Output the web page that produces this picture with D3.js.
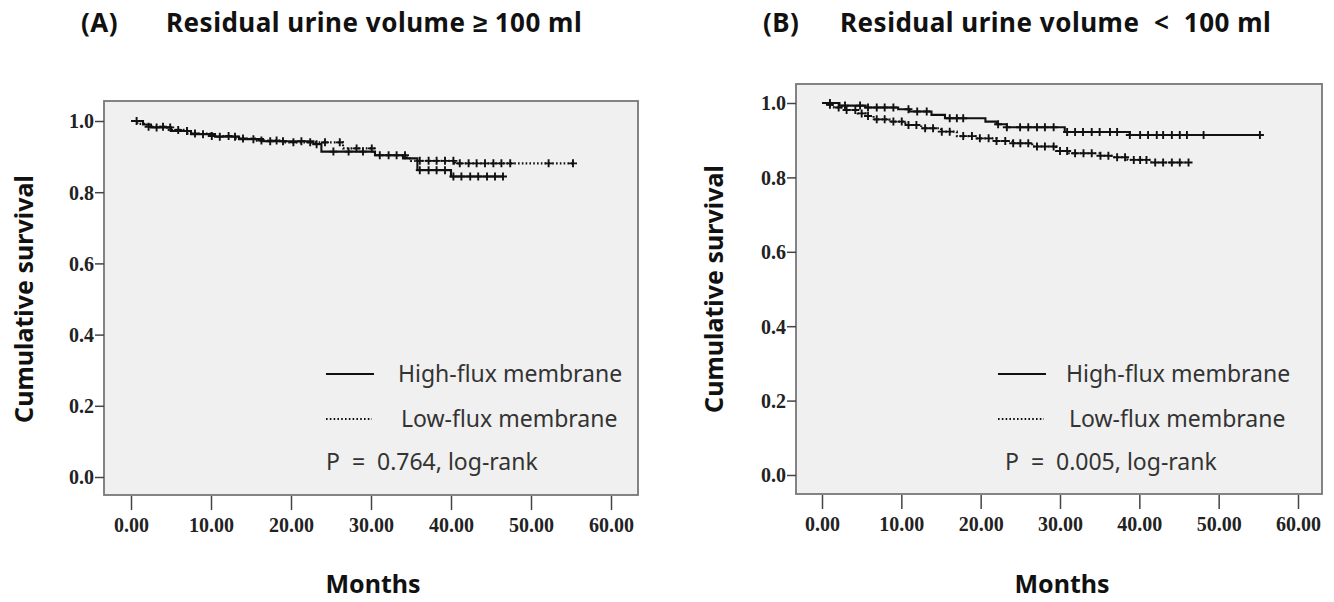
<!DOCTYPE html>
<html>
<head>
<meta charset="utf-8">
<script src="https://cdn.jsdelivr.net/npm/d3@7"></script>
<style>
  body { margin: 0; background: #fff; }
  svg { display: block; }
  .tick-lbl { font-family: "Liberation Serif", serif; font-weight: bold; font-size: 20px; fill: #222; }
  .ttl { font-family: "Noto Sans", sans-serif; font-weight: bold; font-size: 26px; fill: #111; letter-spacing: 0.5px; }
  .axt { font-family: "Noto Sans", sans-serif; font-weight: bold; font-size: 25px; fill: #111; }
  .leg { font-family: "Noto Sans", sans-serif; font-size: 23px; fill: #333; }
</style>
</head>
<body>
<div id="chart"></div>
<script>
// ---- data ----
const xTicks = [0, 10, 20, 30, 40, 50, 60];
const yTicks = [0, 0.2, 0.4, 0.6, 0.8, 1.0];

// (A) residual urine >= 100 ml
const aHighT = [0, 1.5, 2.5, 5, 7.5, 10.5, 13.5, 16.5, 22.8, 23.8, 30.5, 34, 35.8, 40];
const aHighS = [1.0, 0.99, 0.982, 0.972, 0.963, 0.956, 0.949, 0.943, 0.935, 0.914, 0.904, 0.895, 0.862, 0.844];
const aHighEnd = 46.5;
const aHighCens = [0.7, 3.2, 4.9, 7.0, 9.0, 11.1, 13.0, 15.3, 17.4, 19.0, 21.3, 23.2, 25.3, 27.2, 29.0, 31.1, 33.2,
  36.1, 37.2, 38.2, 39.25, 40.3, 41.3, 42.4, 43.4, 44.5, 45.5, 46.5];

const aLowT = [0, 0.8, 2, 4.5, 7, 10, 13, 15.5, 19, 26.5, 30.4, 34.5, 35, 40.5];
const aLowS = [1.0, 0.992, 0.984, 0.975, 0.965, 0.958, 0.951, 0.945, 0.94, 0.923, 0.904, 0.895, 0.888, 0.881];
const aLowEnd = 55.25;
const aLowCens = [2.2, 4.0, 5.9, 8.0, 10.1, 12.2, 14.0, 16.3, 18.2, 20.3, 22.4, 24.25, 26.1, 28.2, 30.1, 32.2, 34.25,
  36.1, 37.2, 38.2, 39.25, 40.3, 41.1, 42.2, 43.2, 44.25, 45.3, 46.3, 47.4, 52.2, 55.25];

// (B) residual urine < 100 ml
const bHighT = [0, 2.2, 5.5, 9.6, 11, 13.8, 15.5, 20.6, 22, 23.3, 30.6, 38.8];
const bHighS = [1.0, 0.993, 0.988, 0.983, 0.977, 0.968, 0.959, 0.95, 0.943, 0.935, 0.922, 0.914];
const bHighEnd = 55.2;
const bHighCens = [1.0, 2.9, 4.8, 5.8, 6.9, 7.9, 9.0, 10.9, 12.0, 13.2, 16.1, 17.0, 17.8, 22.2, 23.3, 24.97, 26.0,
  27.1, 28.1, 29.2, 30.9, 31.9, 32.9, 34.0, 35.0, 36.3, 37.2, 38.8, 40.1, 41.1, 42.2, 43.0, 44.1, 45.1, 46.0, 48.1, 55.2];

const bLowT = [0, 0.6, 1.5, 3, 4.5, 5.5, 6.5, 8.5, 10.5, 12.5, 15, 17, 19.5, 22, 24, 26.5, 29.5, 31, 35, 36.5, 38.5, 41.5];
const bLowS = [1.0, 0.995, 0.988, 0.981, 0.972, 0.965, 0.956, 0.95, 0.941, 0.932, 0.923, 0.911, 0.905, 0.898, 0.892,
  0.883, 0.871, 0.865, 0.858, 0.854, 0.847, 0.84];
const bLowEnd = 46.2;
const bLowCens = [1.0, 2.1, 3.1, 4.2, 5.0, 5.8, 6.9, 7.9, 9.0, 10.05, 10.9, 11.9, 13.0, 14.0, 15.1, 16.1, 17.8, 18.9,
  19.9, 21.0, 22.0, 23.1, 24.1, 25.0, 26.0, 27.1, 28.1, 29.2, 30.0, 30.9, 31.9, 32.96, 34.0, 35.1, 36.1, 37.2, 38.2,
  39.3, 40.1, 40.9, 42.0, 43.0, 44.1, 45.1, 46.2];

const panels = [
  { tag: "(A)", title: "Residual urine volume \u2265 100 ml", pval: "P  =  0.764, log-rank",
    high: [aHighT, aHighS, aHighEnd, aHighCens], low: [aLowT, aLowS, aLowEnd, aLowCens],
    box: [104, 101, 638, 495], xr: [131, 611], yr: [477, 121],
    tagX: 81, titleX: 166, ylabX: 24, legX: 326, legTx: 398, pX: 326 },
  { tag: "(B)", title: "Residual urine volume  <  100 ml", pval: "P  =  0.005, log-rank",
    high: [bHighT, bHighS, bHighEnd, bHighCens], low: [bLowT, bLowS, bLowEnd, bLowCens],
    box: [796, 84, 1322, 494], xr: [822, 1298], yr: [475, 103],
    tagX: 763, titleX: 840, ylabX: 714, legX: 998, legTx: 1066, pX: 1005 }
];

const W = 1334, H = 602;
const svg = d3.select("#chart").append("svg").attr("width", W).attr("height", H);

function survAt(T, S, t) {
  const i = d3.bisectRight(T, t) - 1;
  return S[Math.max(0, i)];
}

panels.forEach(function(p) {
  const g = svg.append("g");
  const [bx0, by0, bx1, by1] = p.box;
  const x = d3.scaleLinear().domain([0, 60]).range(p.xr);
  const y = d3.scaleLinear().domain([0, 1]).range(p.yr);

  // titles
  g.append("text").attr("class", "ttl").attr("x", p.tagX).attr("y", 32).text(p.tag);
  g.append("text").attr("class", "ttl").attr("x", p.titleX).attr("y", 32)
    .attr("xml:space", "preserve").style("white-space", "pre").text(p.title);

  // plot box
  g.append("rect").attr("x", bx0).attr("y", by0).attr("width", bx1 - bx0).attr("height", by1 - by0)
    .attr("fill", "#f0f0f0").attr("stroke", "#777").attr("stroke-width", 1.8);

  // y axis ticks
  const yAx = g.append("g").attr("transform", "translate(" + bx0 + ",0)")
    .call(d3.axisLeft(y).tickValues(yTicks).tickFormat(d3.format(".1f")).tickSize(9).tickPadding(1));
  yAx.select(".domain").remove();
  yAx.selectAll("line").attr("stroke", "#444").attr("stroke-width", 1.5);
  yAx.selectAll("text").attr("class", "tick-lbl").attr("fill", null).attr("dy", "0.34em");

  // x axis ticks
  const xAx = g.append("g").attr("transform", "translate(0," + (by1 + 1) + ")")
    .call(d3.axisBottom(x).tickValues(xTicks).tickFormat(d3.format(".2f")).tickSize(14).tickPadding(8));
  xAx.select(".domain").remove();
  xAx.selectAll("line").attr("stroke", "#444").attr("stroke-width", 1.5);
  xAx.selectAll("text").attr("class", "tick-lbl").attr("fill", null);

  // axis titles
  g.append("text").attr("class", "axt")
    .attr("transform", "translate(" + p.ylabX + "," + ((p.yr[0] + p.yr[1]) / 2) + ") rotate(-90)")
    .attr("text-anchor", "middle").attr("dy", "0.35em").text("Cumulative survival");
  g.append("text").attr("class", "axt").attr("x", (p.xr[0] + p.xr[1]) / 2 + 2).attr("y", 593)
    .attr("text-anchor", "middle").text("Months");

  // survival curves
  const line = d3.line().x(d => x(d[0])).y(d => y(d[1])).curve(d3.curveStepAfter);
  [[p.high, null], [p.low, "1.6,2.2"]].forEach(function(c) {
    const [T, S, end, cens] = c[0];
    const pts = T.map((t, i) => [t, S[i]]);
    pts.push([end, S[S.length - 1]]);
    g.append("path").attr("d", line(pts)).attr("fill", "none").attr("stroke", "#111")
      .attr("stroke-width", 2.1).attr("stroke-dasharray", c[1]);
    g.append("path").attr("fill", "none").attr("stroke", "#111").attr("stroke-width", 1.9)
      .attr("d", cens.map(function(t) {
        const cx = x(t), cy = y(survAt(T, S, t));
        return "M" + (cx - 4) + "," + cy + "H" + (cx + 4) + "M" + cx + "," + (cy - 4) + "V" + (cy + 4);
      }).join(""));
  });

  // legend
  g.append("line").attr("x1", p.legX).attr("x2", p.legX + 48).attr("y1", 374).attr("y2", 374)
    .attr("stroke", "#111").attr("stroke-width", 2.2);
  g.append("line").attr("x1", p.legX).attr("x2", p.legX + 46).attr("y1", 419).attr("y2", 419)
    .attr("stroke", "#111").attr("stroke-width", 2.2).attr("stroke-dasharray", "1.6,2.2");
  g.append("text").attr("class", "leg").attr("x", p.legTx).attr("y", 382).text("High-flux membrane");
  g.append("text").attr("class", "leg").attr("x", p.legTx + 3).attr("y", 427).text("Low-flux membrane");
  g.append("text").attr("class", "leg").attr("x", p.pX).attr("y", 470)
    .attr("xml:space", "preserve").style("white-space", "pre").text(p.pval);
});
</script>
</body>
</html>
